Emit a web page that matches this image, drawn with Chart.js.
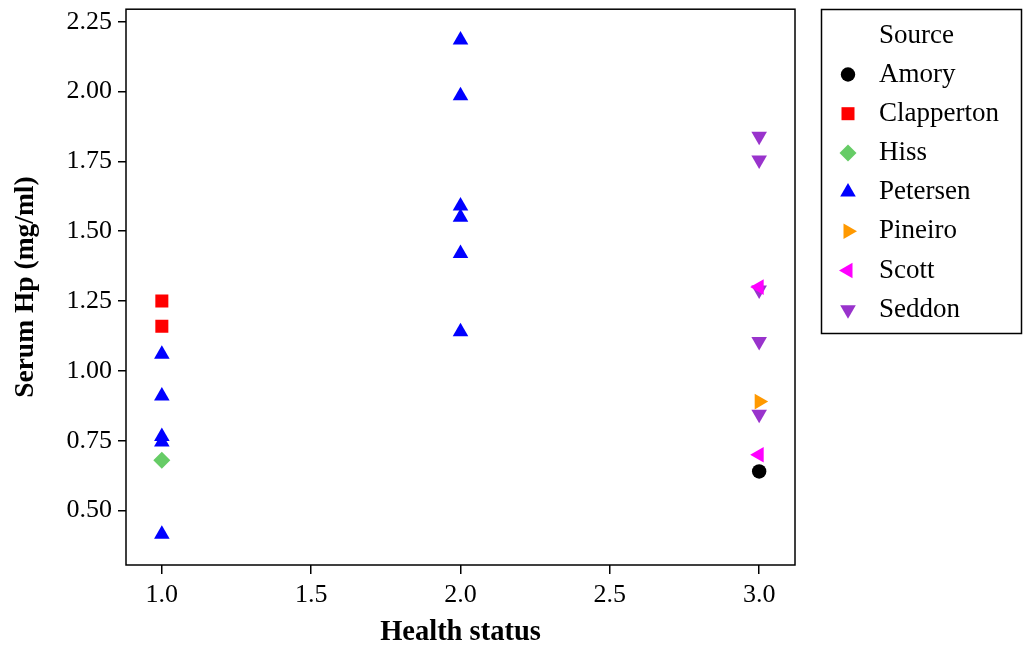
<!DOCTYPE html>
<html>
<head>
<meta charset="utf-8">
<script src="https://cdn.jsdelivr.net/npm/chart.js@4/dist/chart.umd.min.js"></script>
<style>
  html, body { margin: 0; padding: 0; background: #fff; }
  #wrap { width: 1024px; height: 650px; }
</style>
</head>
<body>
<div id="wrap"><canvas id="canvas" width="1024" height="650"></canvas></div>
<script>
// serum haptoglobin by health status, one series per source
var sources = ["Amory", "Clapperton", "Hiss", "Petersen", "Pineiro", "Scott", "Seddon"];

var amoryX = [3];
var amoryY = [0.64];
var clappertonX = [1, 1];
var clappertonY = [1.25, 1.16];
var hissX = [1];
var hissY = [0.68];
var petersenX = [1, 1, 1, 1, 1, 2, 2, 2, 2, 2, 2];
var petersenY = [1.06, 0.91, 0.765, 0.745, 0.415, 2.185, 1.985, 1.59, 1.55, 1.42, 1.14];
var pineiroX = [3];
var pineiroY = [0.89];
var scottX = [3, 3];
var scottY = [1.30, 0.70];
var seddonX = [3, 3, 3, 3, 3];
var seddonY = [1.84, 1.755, 1.29, 1.105, 0.845];

var xTicks = [1.0, 1.5, 2.0, 2.5, 3.0];
var yTicks = [0.50, 0.75, 1.00, 1.25, 1.50, 1.75, 2.00, 2.25];

var serif = "'Liberation Serif', 'DejaVu Serif', serif";

function pts(xs, ys) {
	var out = [];
	for (var i = 0; i < xs.length; i++) {
		out.push({x: xs[i], y: ys[i]});
	}
	return out;
}

function series(label, xs, ys, color, style, rot, r) {
	return {
		label: label,
		data: pts(xs, ys),
		backgroundColor: color,
		borderColor: color,
		pointStyle: style,
		pointRotation: rot,
		pointRadius: r,
		pointHoverRadius: r,
		pointBorderWidth: 0
	};
}

var datasets = [
	series(sources[0], amoryX, amoryY, '#000000', 'circle', 0, 7.2),
	series(sources[1], clappertonX, clappertonY, '#ff0000', 'rect', 0, 9.2),
	series(sources[2], hissX, hissY, '#66cc66', 'rectRot', 0, 8.5),
	series(sources[3], petersenX, petersenY, '#0000ff', 'triangle', 0, 9),
	series(sources[4], pineiroX, pineiroY, '#ff9900', 'triangle', 90, 9),
	series(sources[5], scottX, scottY, '#ff00ff', 'triangle', 270, 9),
	series(sources[6], seddonX, seddonY, '#9933cc', 'triangle', 180, 9)
];

// full box round the plot plus the boxed legend on the right
var boxPlugin = {
	id: 'boxPlugin',
	afterDraw: function(chart) {
		var c = chart.ctx;
		var a = chart.chartArea;
		c.save();
		c.strokeStyle = '#000';
		c.lineWidth = 1.5;
		c.strokeRect(a.left, a.top, a.right - a.left, a.bottom - a.top);

		c.strokeRect(821.5, 9.5, 200, 324);
		c.fillStyle = '#000';
		c.font = '27px ' + serif;
		c.textBaseline = 'middle';
		c.textAlign = 'left';
		c.fillText('Source', 879, 36);
		for (var i = 0; i < chart.data.datasets.length; i++) {
			var ds = chart.data.datasets[i];
			var y = 74.5 + i * 39.2;
			c.fillStyle = ds.backgroundColor;
			c.strokeStyle = ds.borderColor;
			Chart.helpers.drawPoint(c, {
				pointStyle: ds.pointStyle,
				rotation: ds.pointRotation,
				radius: ds.pointRadius,
				borderWidth: 0
			}, 848, y);
			c.fillStyle = '#000';
			c.fillText(ds.label, 879, y);
		}
		c.restore();
	}
};

var ctx = document.getElementById("canvas");

window.myCharts = new Chart(ctx, {
	type: 'scatter',
	data: { datasets: datasets },
	options: {
		responsive: false,
		animation: false,
		layout: { padding: { top: 9, right: 229, left: 0, bottom: 0 } },
		plugins: {
			legend: { display: false },
			tooltip: { enabled: false }
		},
		scales: {
			x: {
				type: 'linear',
				min: 0.88,
				max: 3.12,
				afterFit: function(scale) {
					scale.height = 85;
					scale.paddingLeft = 0;
					scale.paddingRight = 0;
				},
				afterBuildTicks: function(scale) {
					scale.ticks = xTicks.map(function(v) { return {value: v}; });
				},
				border: { display: false },
				grid: { drawOnChartArea: false, drawTicks: true, tickLength: 9, color: '#000', lineWidth: 1.5 },
				ticks: {
					color: '#000',
					padding: 6,
					font: { family: serif, size: 26 },
					callback: function(v) { return Number(v).toFixed(1); }
				},
				title: {
					display: true,
					text: 'Health status',
					color: '#000',
					padding: { top: 0, bottom: 0 },
					font: { family: serif, size: 28.5, weight: 'bold' }
				}
			},
			y: {
				type: 'linear',
				min: 0.305,
				max: 2.295,
				afterFit: function(scale) {
					scale.width = 126;
					scale.paddingTop = 0;
					scale.paddingBottom = 0;
				},
				afterBuildTicks: function(scale) {
					scale.ticks = yTicks.map(function(v) { return {value: v}; });
				},
				border: { display: false },
				grid: { drawOnChartArea: false, drawTicks: true, tickLength: 8, color: '#000', lineWidth: 1.5 },
				ticks: {
					color: '#000',
					padding: 6,
					font: { family: serif, size: 26 },
					callback: function(v) { return Number(v).toFixed(2); }
				},
				title: {
					display: true,
					text: 'Serum Hp (mg/ml)',
					color: '#000',
					padding: { top: 9, bottom: 0 },
					font: { family: serif, size: 27.5, weight: 'bold' }
				}
			}
		}
	},
	plugins: [boxPlugin]
});
</script>
</body>
</html>
